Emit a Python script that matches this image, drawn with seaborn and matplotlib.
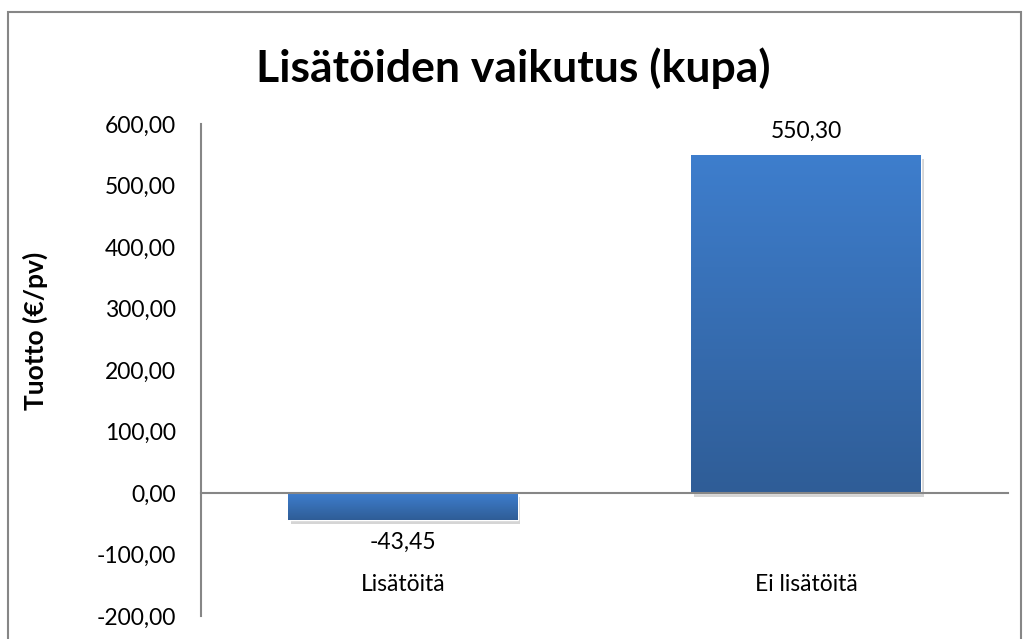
import numpy as np
import pandas as pd
import matplotlib.pyplot as plt
import matplotlib.patheffects as pe
from matplotlib.colors import LinearSegmentedColormap
from matplotlib.patches import Rectangle
import seaborn as sns

categories = ["Lisätöitä", "Ei lisätöitä"]
values = [-43.45, 550.30]
title = "Lisätöiden vaikutus (kupa)"
ylabel = "Tuotto (€/pv)"
yticks = [-200, -100, 0, 100, 200, 300, 400, 500, 600]


def fi_num(v):
    # Finnish decimal comma
    return f"{v:.2f}".replace(".", ",")


def main():
    sns.set_style("white")
    plt.rcParams["font.family"] = ["Lato", "DejaVu Sans"]
    plt.rcParams["text.color"] = "black"
    plt.rcParams["ytick.color"] = "black"
    plt.rcParams["xtick.color"] = "black"
    plt.rcParams["axes.labelcolor"] = "black"

    df = pd.DataFrame({"kategoria": categories, "tuotto": values})

    fig = plt.figure(figsize=(10.26, 6.39), dpi=100)
    ax = fig.add_axes([0.196, 0.036, 0.786, 0.77])
    sns.barplot(data=df, x="kategoria", y="tuotto", color="#3a73bb",
                saturation=1, width=0.57, ax=ax)

    # vertical gradient on the bars, light on top, dark at the bottom
    cmap = LinearSegmentedColormap.from_list("bar", ["#2f5d97", "#3e7ecd"])
    grad = np.linspace(0, 1, 256).reshape(-1, 1)
    for patch in ax.patches:
        x0, w = patch.get_x(), patch.get_width()
        y0, h = patch.get_y(), patch.get_height()
        patch.set_path_effects([pe.SimplePatchShadow(offset=(2, -3), shadow_rgbFace="#777777", alpha=0.3),
                                pe.Normal()])
        im = ax.imshow(grad, extent=[x0, x0 + w, min(y0, y0 + h), max(y0, y0 + h)],
                       origin="lower", aspect="auto", cmap=cmap, zorder=patch.get_zorder() + 0.1)
        im.set_clip_path(patch)

    ax.bar_label(ax.containers[0], labels=[fi_num(v) for v in values],
                 padding=9, fontsize=16.5, color="black")

    ax.set_xlim(-0.5, 1.5)
    ax.set_ylim(-200, 600)
    ax.set_yticks(yticks)
    ax.set_yticklabels([fi_num(t) for t in yticks], fontsize=16.5)
    ax.tick_params(axis="y", length=0, pad=18)
    ax.tick_params(axis="x", length=0, pad=58, labelsize=16.5)
    ax.set_xlabel("")
    ax.set_ylabel(ylabel, fontsize=19, fontweight="bold")
    ax.yaxis.set_label_coords(-0.19, 0.579)

    sns.despine(ax=ax, top=True, right=True)
    ax.spines["bottom"].set_position(("data", 0))
    for s in ["left", "bottom"]:
        ax.spines[s].set_color("#868686")
        ax.spines[s].set_linewidth(1.5)

    fig.suptitle(title, x=0.5, y=0.894, va="center", fontsize=32, fontweight="bold")

    # chart area border
    fig.patches.append(Rectangle((8 / 1026, -0.1), 1013 / 1026, 1 - 12 / 639 + 0.1,
                                 transform=fig.transFigure, fill=False,
                                 edgecolor="#868686", linewidth=1.5))

    fig.savefig("out.png", dpi=100)


if __name__ == "__main__":
    main()
